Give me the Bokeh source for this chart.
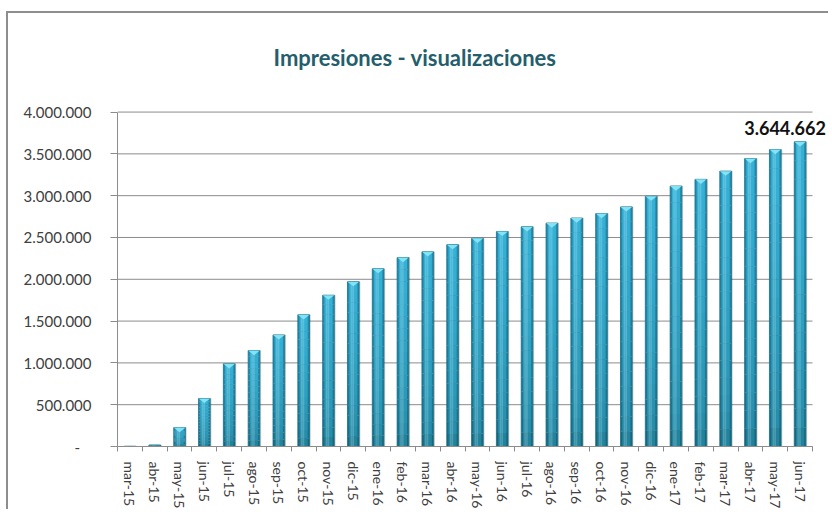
from bokeh.plotting import figure
from bokeh.models import Range1d, FixedTicker, Label
from bokeh.transform import dodge
from bokeh.embed import file_html
from bokeh.resources import INLINE

# ---------------- data ----------------
months = ["mar-15", "abr-15", "may-15", "jun-15", "jul-15", "ago-15", "sep-15",
          "oct-15", "nov-15", "dic-15", "ene-16", "feb-16", "mar-16", "abr-16",
          "may-16", "jun-16", "jul-16", "ago-16", "sep-16", "oct-16", "nov-16",
          "dic-16", "ene-17", "feb-17", "mar-17", "abr-17", "may-17", "jun-17"]
impresiones = [3000, 18000, 226000, 574000, 989000, 1147000, 1334000,
               1575000, 1809000, 1971000, 2126000, 2260000, 2328000, 2414000,
               2490000, 2572000, 2628000, 2672000, 2732000, 2786000, 2866000,
               2993000, 3115000, 3195000, 3293000, 3444000, 3551000, 3644662]
y_ticks = [0, 500000, 1000000, 1500000, 2000000, 2500000, 3000000, 3500000, 4000000]
y_tick_labels = ["-\u00a0\u00a0\u00a0", "500.000", "1.000.000", "1.500.000", "2.000.000",
                 "2.500.000", "3.000.000", "3.500.000", "4.000.000"]
title_text = "Impresiones - visualizaciones"

FONT = "Lato"
TXT = "#404040"
GRID = "#8c8c8c"

n = len(months)
y_max = y_ticks[-1]
pos = [i + 0.5 for i in range(n)]          # slot centres
bounds = [float(i) for i in range(n + 1)]   # slot boundaries

# layout (px): plot area 695 px wide for the n slots, 336 px tall for 0..y_max;
# the frame is extended right (18 px) and up (92 px) so that annotations fit.
SLOT_W = 695 / n
PX_Y = 336 / y_max
x_end = n + 18 / SLOT_W
y_end = y_max + 92 / PX_Y

p = figure(x_range=Range1d(0, x_end), y_range=Range1d(0, y_end),
           width=822, height=498, output_backend="svg", toolbar_location=None,
           min_border_left=109, min_border_right=0, min_border_top=7,
           min_border_bottom=63)
p.styles = {"position": "relative", "left": "6px", "top": "11px",
            "border-left": "2px solid #8e8e8e", "border-top": "2px solid #8e8e8e"}
p.outline_line_color = None
p.background_fill_color = "white"
p.border_fill_color = "white"
p.xgrid.visible = False
p.ygrid.visible = False

# ---- horizontal gridlines over the category area only ----
p.segment(x0=0, x1=n, y0=y_ticks, y1=y_ticks, line_color=GRID, line_width=1)

# ---- y axis ----
ya = p.yaxis[0]
ya.bounds = (0, y_max)
ya.ticker = FixedTicker(ticks=y_ticks)
ya.major_label_overrides = {t: l for t, l in zip(y_ticks, y_tick_labels)}
ya.axis_line_color = GRID
ya.major_tick_line_color = GRID
ya.major_tick_out = 7
ya.major_tick_in = 0
ya.minor_tick_line_color = None
ya.major_label_standoff = 19
ya.major_label_text_font = FONT
ya.major_label_text_font_size = "15px"
ya.major_label_text_color = TXT

# ---- x axis: labels at centres, ticks at category boundaries ----
xa = p.xaxis[0]
xa.bounds = (0, n)
xa.ticker = FixedTicker(ticks=pos, minor_ticks=bounds)
xa.major_label_overrides = {c: m for c, m in zip(pos, months)}
xa.major_label_orientation = "vertical"
xa.major_tick_line_color = None
xa.major_tick_out = 0
xa.major_tick_in = 0
xa.minor_tick_line_color = GRID
xa.minor_tick_out = 5
xa.minor_tick_in = 0
xa.axis_line_color = GRID
xa.major_label_standoff = 10
xa.major_label_text_font = FONT
xa.major_label_text_font_size = "14px"
xa.major_label_text_color = TXT

# ---- bars (cylinder-like, vertical gradient) ----
BW = 0.47
src = {"x": pos, "v": impresiones}
p.vbar(x=dodge("x", 0.035), top="v", bottom=0, width=BW,
       source=dict(src), color="#000000", alpha=0.13)

def mix(c1, c2, t):
    return "#%02x%02x%02x" % tuple(int(round(a + (b - a) * t)) for a, b in zip(c1, c2))

outer_bot, outer_top = (0x17, 0x66, 0x7c), (0x21, 0x8c, 0xb0)
inner_bot, inner_top = (0x22, 0x83, 0x9d), (0x35, 0xb1, 0xd6)
N = 16
for k in range(N):
    t = (k / (N - 1)) ** 0.55
    bot = [v * k / N for v in impresiones]
    top = [v * (k + 1) / N for v in impresiones]
    p.vbar(x=pos, bottom=bot, top=top, width=BW,
           color=mix(outer_bot, outer_top, t), line_width=0)
    p.vbar(x=pos, bottom=bot, top=top, width=BW * 0.7,
           color=mix(inner_bot, inner_top, t), line_width=0)

p.vbar(x=dodge("x", -0.04), top="v", bottom=0, width=0.1,
       source=dict(src), color="#ffffff", alpha=0.14)
p.vbar(x=pos, top=impresiones, bottom=0, width=BW, fill_color=None,
       line_color="#1a6f86", line_width=0.8)

# top caps (light bevel)
for c, v in zip(pos, impresiones):
    if v > 100000:
        p.patch(x=[c - BW / 2, c + BW / 2, c], y=[v, v, v - 55000],
                color="#86e6f7", alpha=0.95, line_width=0)

# ---- title ----
p.add_layout(Label(x=n / 2, y=y_max, x_offset=-50, y_offset=55,
                   text=title_text, text_align="center", text_baseline="alphabetic",
                   text_font=FONT, text_font_style="bold", text_font_size="22px",
                   text_color="#245d6b"))

# ---- value label on the last bar ----
last = n - 1
p.add_layout(Label(x=pos[last], y=impresiones[last],
                   x_offset=-15, y_offset=14,
                   text=f"{impresiones[last]:,}".replace(",", "."),
                   text_align="center", text_baseline="alphabetic",
                   text_font=FONT, text_font_style="bold", text_font_size="18px",
                   text_color="#111111"))

open("out.html", "w").write(file_html(p, INLINE))
